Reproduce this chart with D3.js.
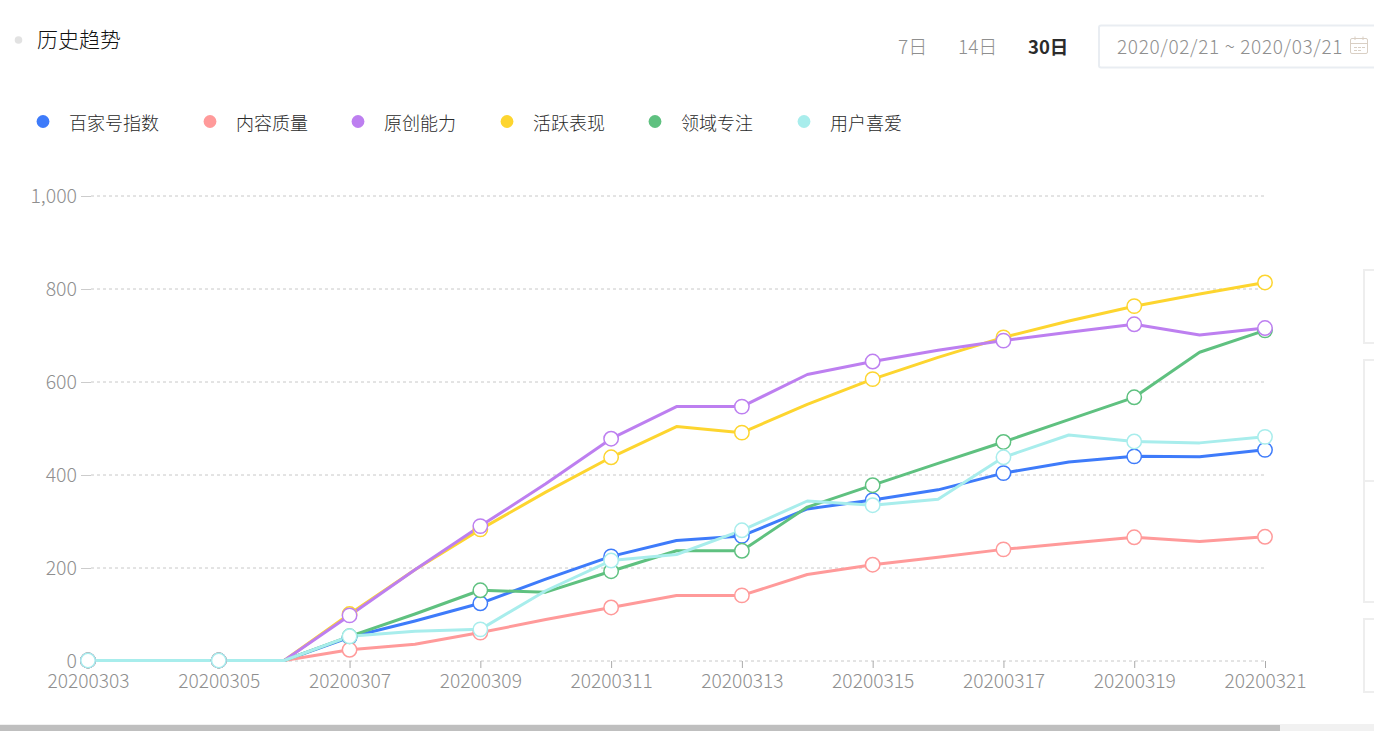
<!DOCTYPE html>
<html><head><meta charset="utf-8">
<script src="https://cdn.jsdelivr.net/npm/d3@7/dist/d3.min.js"></script>
<style>
html,body{margin:0;padding:0;background:#fff;overflow:hidden}
svg{display:block}
text{font-family:"Noto Sans CJK SC","Noto Sans",sans-serif;font-weight:300}
</style></head><body>
<svg id="c" width="1374" height="731"></svg>
<script>
const dates=["20200303","20200304","20200305","20200306","20200307","20200308","20200309","20200310","20200311","20200312","20200313","20200314","20200315","20200316","20200317","20200318","20200319","20200320","20200321"];
const tickDates=dates.filter((d,i)=>i%2===0);
const yTicks=[0,200,400,600,800,1000];
const seriesNames=["百家号指数","内容质量","原创能力","活跃表现","领域专注","用户喜爱"];
const seriesColors=["#3e7bfa","#ff9a9a","#bd7ff0","#fdd52f","#5fc180","#a8edec"];
const baijiahao=[0,0,0,0,50,85,123,175,224,258,268,326,345,367,403,427,439,438,453];
const quality=[0,0,0,0,23,35,60,88,114,140,140,185,206,222,239,252,265,256,266];
const original=[0,0,0,0,97,195,289,380,477,546,546,615,643,667,688,706,723,700,715];
const activity=[0,0,0,0,100,195,282,362,437,503,490,551,605,652,695,730,762,788,813];
const focus=[0,0,0,0,52,100,151,147,192,236,236,330,377,424,470,518,566,663,710];
const liked=[0,0,0,0,52,63,67,150,215,228,280,343,334,347,437,485,471,468,481];
const seriesValues=[baijiahao,quality,original,activity,focus,liked];
const drawOrder=[0,1,3,4,2,5];
const rangeOptions=["7日","14日","30日"];
const dateRange="2020/02/21 ~ 2020/03/21";

const svg=d3.select("#c");
const x=d3.scalePoint().domain(dates).range([88,1265]);
const y=d3.scaleLinear().domain([0,1000]).range([660.5,195.5]);

// header
svg.append("circle").attr("cx",18.5).attr("cy",40).attr("r",3.8).attr("fill","#e2e2e2");
svg.append("text").attr("x",37).attr("y",47).attr("font-size",21).attr("fill","#111").text("历史趋势");
const rx=[898,958,1028];
rangeOptions.forEach((t,i)=>svg.append("text").attr("x",rx[i]).attr("y",54).attr("font-size",i===2?18.5:19)
  .style("font-weight",i===2?700:300).attr("fill",i===2?"#2b2b2b":"#8f8f8f").text(t));
svg.append("rect").attr("x",1099).attr("y",25.5).attr("width",300).attr("height",42).attr("rx",2)
  .attr("fill","#fff").attr("stroke","#e9edf2").attr("stroke-width",2);
svg.append("text").attr("x",1117).attr("y",54).attr("font-size",19).attr("letter-spacing",.65).attr("fill","#8f8f8f").text(dateRange);
const cal=svg.append("g").attr("fill","none").attr("stroke","#d9cfc4").attr("stroke-width",1);
cal.append("rect").attr("x",1350.5).attr("y",38.5).attr("width",17).attr("height",15).attr("rx",1.5);
cal.append("path").attr("d","M1350.5 43.5H1367.5M1355 36.5V40M1363 36.5V40M1354 47.5H1357M1358 47.5H1361M1362 47.5H1365M1354 50.5H1357M1358 50.5H1361");

// legend
const lx=[43,210,358,507,655,804];
seriesNames.forEach((n,i)=>{
  svg.append("circle").attr("cx",lx[i]).attr("cy",121.5).attr("r",6.4).attr("fill",seriesColors[i]);
  svg.append("text").attr("x",lx[i]+26).attr("y",130).attr("font-size",18).attr("fill","#2a2a2a").text(n);
});

// y axis
const gy=svg.append("g").attr("transform","translate(91,0.5)")
  .call(d3.axisLeft(y).tickValues(yTicks).tickFormat(d3.format(",")).tickSize(10).tickPadding(4));
gy.select(".domain").remove();
gy.selectAll("line").attr("stroke","#ccc");
gy.selectAll("text").attr("font-size",19.5).attr("fill","#8f8f8f").attr("dy","0.34em");
svg.append("g").selectAll("line").data(yTicks).join("line")
  .attr("x1",91).attr("x2",1265).attr("y1",d=>y(d)+.5).attr("y2",d=>y(d)+.5)
  .attr("stroke","#c8c8c8").attr("stroke-dasharray","3 3");

// x axis
const gx=svg.append("g").attr("transform","translate(0,661)")
  .call(d3.axisBottom(x).tickValues(tickDates).tickSize(7).tickPadding(4));
gx.select(".domain").remove();
gx.selectAll("line").attr("stroke","#aaa");
gx.selectAll("text").attr("font-size",19.2).attr("fill","#8f8f8f").attr("dy","0.82em");

// series
const line=d3.line().x((d,i)=>x(dates[i])).y(d=>y(d));
drawOrder.forEach(s=>{
  svg.append("path").attr("d",line(seriesValues[s])).attr("fill","none").attr("stroke",seriesColors[s])
    .attr("stroke-width",3).attr("stroke-linejoin","round");
});
drawOrder.forEach(s=>{
  svg.append("g").selectAll("circle").data(seriesValues[s].map((v,i)=>({v,i})).filter(d=>d.i%2===0)).join("circle")
    .attr("cx",d=>x(dates[d.i])).attr("cy",d=>y(d.v)).attr("r",7.2)
    .attr("fill","#fff").attr("stroke",seriesColors[s]).attr("stroke-width",1.5);
});

// neighbouring panels cut off at the right edge
const boxes=svg.append("g").attr("fill","#fff").attr("stroke","#eee").attr("stroke-width",2);
[[270,343],[360,481],[481,602],[619,692]].forEach(b=>boxes.append("rect").attr("x",1364).attr("y",b[0]).attr("width",30).attr("height",b[1]-b[0]));

// scrollbar
svg.append("rect").attr("x",0).attr("y",724).attr("width",1374).attr("height",7).attr("fill","#f1f1f1");
svg.append("rect").attr("x",0).attr("y",725).attr("width",1280).attr("height",6).attr("fill","#bfbfbf");
</script></body></html>
